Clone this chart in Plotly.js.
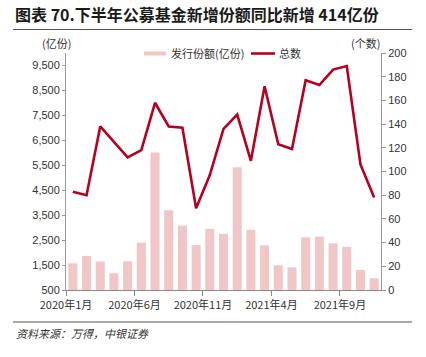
<!DOCTYPE html>
<html>
<head>
<meta charset="utf-8">
<script src="https://cdn.plot.ly/plotly-3.0.1.min.js"></script>
<style>html,body{margin:0;padding:0;background:#fff;}#chart{width:426px;height:357px;}</style>
</head>
<body>
<div id="chart"></div>
<script>
const categories = ["2020年1月","2020年2月","2020年3月","2020年4月","2020年5月","2020年6月","2020年7月","2020年8月","2020年9月","2020年10月","2020年11月","2020年12月","2021年1月","2021年2月","2021年3月","2021年4月","2021年5月","2021年6月","2021年7月","2021年8月","2021年9月","2021年10月","2021年11月"];
const issueShares = [1570,1865,1640,1170,1650,2400,6010,3700,3080,2300,2950,2750,5420,2910,2290,1490,1410,2610,2640,2370,2230,1300,970];
const fundCount = [83,80,138,125,112,118,158,138,137,69,97,136,148,109,172,123,119,177,173,186,189,106,78];
const tickLabels = ["2020年1月","2020年6月","2020年11月","2021年4月","2021年9月"];
const leftTicks = [500,1500,2500,3500,4500,5500,6500,7500,8500,9500];
const seriesNames = ["发行份额(亿份)", "总数"];

const xIdx = categories.map((c,i)=>i);
const tickPos = tickLabels.map(t => categories.indexOf(t) - 0.5);
const cjk = '"Noto Sans CJK SC", sans-serif';
const num = '"Liberation Sans", Arial, sans-serif';
const barColor = '#f0c6c6', lineColor = '#b5001f';

const traces = [
  {type:'bar', name:seriesNames[0], x:xIdx, y:issueShares, marker:{color:barColor}, yaxis:'y', hoverinfo:'skip'},
  {type:'scatter', mode:'lines', name:seriesNames[1], x:xIdx, y:fundCount, line:{color:lineColor, width:2.6}, yaxis:'y2', hoverinfo:'skip'}
];

// pixel -> paper helpers (plot area: x 66..381, y 53..290)
const PX = X => (X-66)/315;
const PY = Y => (290-Y)/237;
const legY = 53.5;

const layout = {
  width:426, height:357,
  margin:{l:66, r:45, t:53, b:67},
  paper_bgcolor:'#fff', plot_bgcolor:'#fff',
  bargap:0.34,
  showlegend:false,
  xaxis:{range:[-0.5,22.5], tickmode:'array', tickvals:tickPos, ticktext:tickLabels, ticks:'outside', ticklen:5, tickcolor:'#888', showline:true, linecolor:'#888', linewidth:1, showgrid:false, zeroline:false, tickfont:{family:cjk, size:11, color:'#333'}, fixedrange:true},
  yaxis:{range:[500,10000], tickmode:'array', tickvals:leftTicks, tickformat:',', ticks:'outside', ticklen:3, tickcolor:'#999', showline:true, linecolor:'#999', linewidth:1, showgrid:false, zeroline:false, tickfont:{family:num, size:11, color:'#333'}},
  yaxis2:{range:[0,200], dtick:20, overlaying:'y', side:'right', ticks:'outside', ticklen:4, tickcolor:'#999', showline:true, linecolor:'#999', linewidth:1, showgrid:false, zeroline:false, tickfont:{family:num, size:11, color:'#333'}},
  annotations:[
    {text:'<b>图表 70.下半年公募基金新增份额同比新增 414亿份</b>', xref:'paper', yref:'paper', x:PX(13), y:PY(14), xanchor:'left', yanchor:'middle', showarrow:false, font:{family:cjk, size:16, color:'#1a1a1a'}},
    {text:'(亿份)', xref:'paper', yref:'paper', x:PX(56), y:PY(43), xanchor:'center', yanchor:'middle', showarrow:false, font:{family:cjk, size:11, color:'#333'}},
    {text:'(个数)', xref:'paper', yref:'paper', x:PX(382), y:PY(43), xanchor:'right', yanchor:'middle', showarrow:false, font:{family:cjk, size:11, color:'#333'}},
    {text:seriesNames[0], xref:'paper', yref:'paper', x:PX(169), y:PY(legY), xanchor:'left', yanchor:'middle', showarrow:false, font:{family:cjk, size:11, color:'#333'}},
    {text:seriesNames[1], xref:'paper', yref:'paper', x:PX(277), y:PY(legY), xanchor:'left', yanchor:'middle', showarrow:false, font:{family:cjk, size:11, color:'#333'}},
    {text:'<i>资料来源：万得，中银证券</i>', xref:'paper', yref:'paper', x:PX(14), y:PY(333), xanchor:'left', yanchor:'middle', showarrow:false, font:{family:cjk, size:11, color:'#333'}}
  ],
  shapes:[
    {type:'line', xref:'paper', yref:'paper', x0:PX(13), x1:PX(412), y0:PY(29.5), y1:PY(29.5), line:{color:'#555', width:1}},
    {type:'line', xref:'paper', yref:'paper', x0:PX(13), x1:PX(412), y0:PY(322), y1:PY(322), line:{color:'#555', width:1}},
    {type:'rect', xref:'paper', yref:'paper', x0:PX(144), x1:PX(166), y0:PY(51.5), y1:PY(55.5), fillcolor:barColor, line:{width:0}},
    {type:'line', xref:'paper', yref:'paper', x0:PX(251), x1:PX(275), y0:PY(legY), y1:PY(legY), line:{color:lineColor, width:2.6}}
  ]
};

Plotly.newPlot('chart', traces, layout, {displayModeBar:false, staticPlot:true});
</script>
</body>
</html>
